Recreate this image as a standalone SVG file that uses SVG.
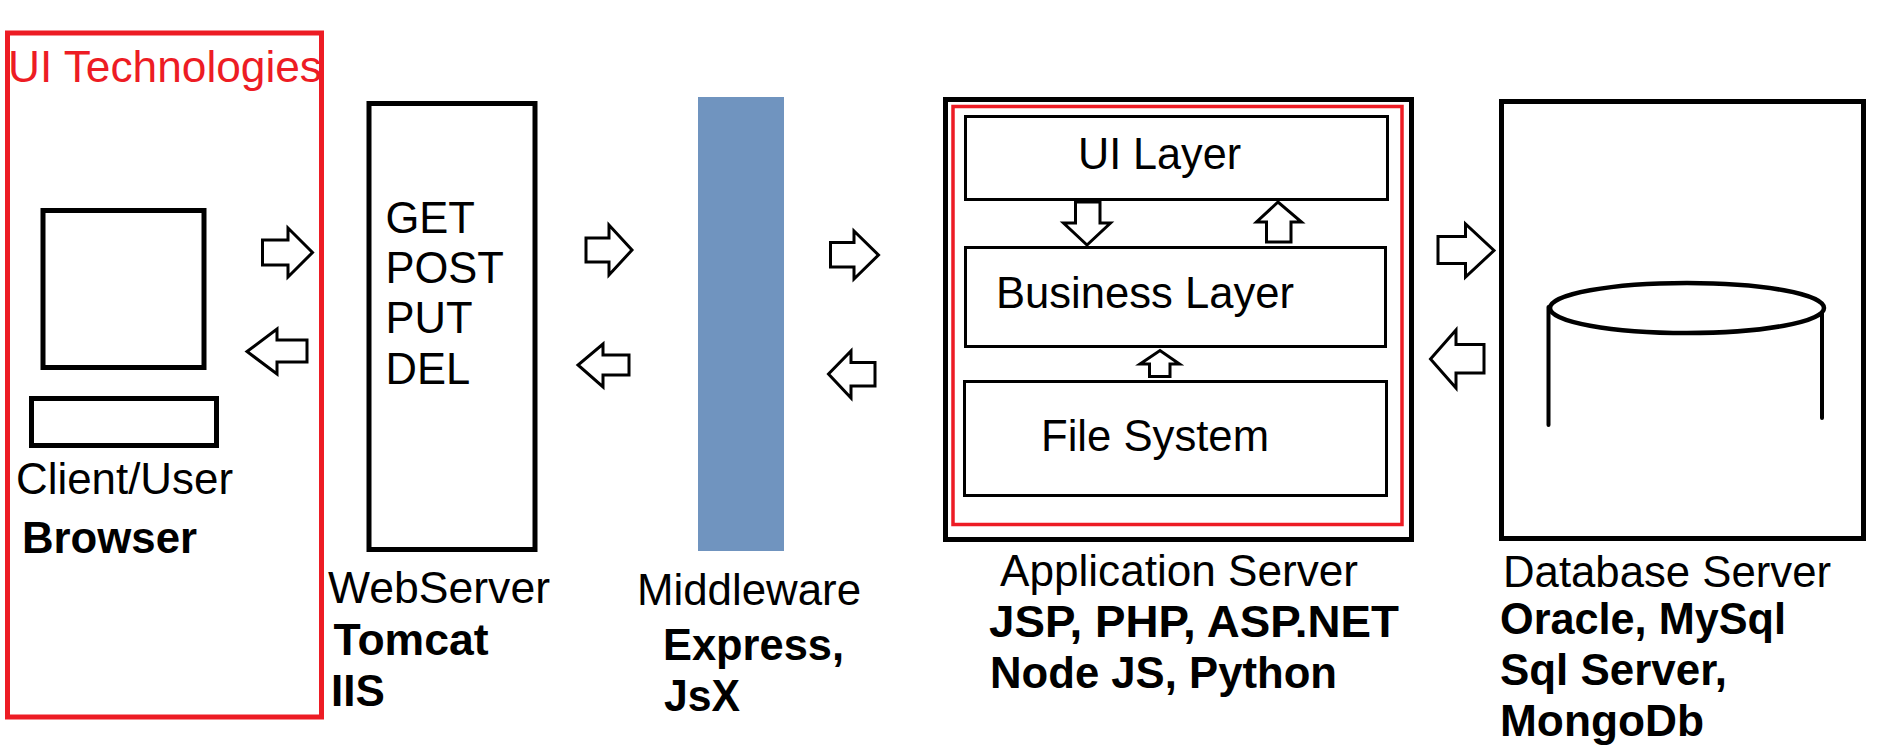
<svg xmlns="http://www.w3.org/2000/svg" width="1897" height="755" viewBox="0 0 1897 755">
<style>
text{font-family:"Liberation Sans",Arial,sans-serif;font-size:44px;fill:#000}
.b{font-weight:700}
.r{fill:#ed1c24}
.m{font-size:43.500px}
.box{fill:none;stroke:#000;stroke-width:5}
.in{fill:none;stroke:#000;stroke-width:3}
.red{fill:none;stroke:#ed1c24}
.arr{fill:#fff;stroke:#000;stroke-width:3;stroke-linejoin:miter}
</style>
<rect width="1897" height="755" fill="#fff"/>
<g id="ui-technologies">
<rect class="red" x="7.500" y="33" width="314" height="684" stroke-width="5"/>
<text class="r" x="8" y="82" textLength="314" lengthAdjust="spacingAndGlyphs">UI Technologies</text>
</g>
<g id="client">
<rect class="box" x="43" y="210.500" width="161" height="157"/>
<rect class="box" x="31.500" y="398.500" width="185" height="47"/>
<text x="16" y="494" textLength="217" lengthAdjust="spacingAndGlyphs">Client/User</text>
<text class="b" x="22" y="553" textLength="175" lengthAdjust="spacingAndGlyphs">Browser</text>
</g>
<g id="web-server">
<rect class="box" x="369" y="103.500" width="166" height="446"/>
<text class="m" x="385.500" y="233">GET</text>
<text class="m" x="385.500" y="283">POST</text>
<text class="m" x="385.500" y="333">PUT</text>
<text class="m" x="385.500" y="384">DEL</text>
<text x="328" y="603" textLength="222" lengthAdjust="spacingAndGlyphs">WebServer</text>
<text class="b" x="333.500" y="655" textLength="155" lengthAdjust="spacingAndGlyphs">Tomcat</text>
<text class="b" x="331" y="706">IIS</text>
</g>
<g id="middleware">
<rect x="698" y="97" width="86" height="454" fill="#7094bf"/>
<text x="637" y="605" textLength="224" lengthAdjust="spacingAndGlyphs">Middleware</text>
<text class="b" x="663" y="660" textLength="181" lengthAdjust="spacingAndGlyphs">Express,</text>
<text class="b" x="664" y="711" textLength="76" lengthAdjust="spacingAndGlyphs">JsX</text>
</g>
<g id="application-server">
<rect class="box" x="945.500" y="99.500" width="466" height="440"/>
<rect class="red" x="953" y="106.500" width="449" height="418" stroke-width="3.500"/>
<text x="1000" y="586" textLength="358" lengthAdjust="spacingAndGlyphs">Application Server</text>
<text class="b" x="989" y="637" textLength="410" lengthAdjust="spacingAndGlyphs">JSP, PHP, ASP.NET</text>
<text class="b" x="990" y="688" textLength="347" lengthAdjust="spacingAndGlyphs">Node JS, Python</text>
</g>
<g id="ui-layer">
<rect class="in" x="965.500" y="116.500" width="422" height="83"/>
<text x="1078" y="169" textLength="163" lengthAdjust="spacingAndGlyphs">UI Layer</text>
</g>
<g id="business-layer">
<rect class="in" x="965.500" y="247.500" width="420" height="99"/>
<text x="996" y="308" textLength="298" lengthAdjust="spacingAndGlyphs">Business Layer</text>
</g>
<g id="file-system">
<rect class="in" x="964.500" y="381.500" width="422" height="114"/>
<text x="1041" y="450.500" textLength="228" lengthAdjust="spacingAndGlyphs">File System</text>
</g>
<g id="database-server">
<rect class="box" x="1501.500" y="101.500" width="362" height="437"/>
<ellipse cx="1687" cy="308" rx="137" ry="25" fill="none" stroke="#000" stroke-width="4.500"/>
<path d="M1548.500 307V425M1822 313V418" fill="none" stroke="#000" stroke-width="4" stroke-linecap="round"/>
<text x="1503" y="587" textLength="328" lengthAdjust="spacingAndGlyphs">Database Server</text>
<text class="b" x="1500" y="634" textLength="286" lengthAdjust="spacingAndGlyphs">Oracle, MySql</text>
<text class="b" x="1500" y="685" textLength="227" lengthAdjust="spacingAndGlyphs">Sql Server,</text>
<text class="b" x="1500" y="736" textLength="204" lengthAdjust="spacingAndGlyphs">MongoDb</text>
</g>
<g id="connectors">
<polygon class="arr" points="262.500,240 288,240 288,228 312.500,252.500 288,277 288,265 262.500,265"/>
<polygon class="arr" points="307,340 277,340 277,329 247,351.500 277,374 277,362 307,362"/>
<polygon class="arr" points="586,238 609,238 609,225 632,250 609,275 609,262 586,262"/>
<polygon class="arr" points="629,355 603,355 603,344 578,365 603,387 603,375 629,375"/>
<polygon class="arr" points="830.500,242.500 854,242.500 854,231 878.500,255 854,279 854,267 830.500,267"/>
<polygon class="arr" points="875,362.500 851,362.500 851,351 828.500,374 851,398 851,386 875,386"/>
<polygon class="arr" points="1075.500,202 1100,202 1100,223 1110.500,223 1087,245 1063.500,223 1075.500,223"/>
<polygon class="arr" points="1266.500,242 1291,242 1291,222 1301.500,222 1278,202 1256.500,222 1266.500,222"/>
<polygon class="arr" points="1149.500,376.500 1170,376.500 1170,364 1179.500,364 1160,350.500 1140,364 1149.500,364"/>
<polygon class="arr" points="1438,236.500 1465.500,236.500 1465.500,224 1494,250.500 1465.500,277 1465.500,263.500 1438,263.500"/>
<polygon class="arr" points="1484,344.500 1456,344.500 1456,330 1430.500,359 1456,388 1456,373 1484,373"/>
</g>
</svg>
